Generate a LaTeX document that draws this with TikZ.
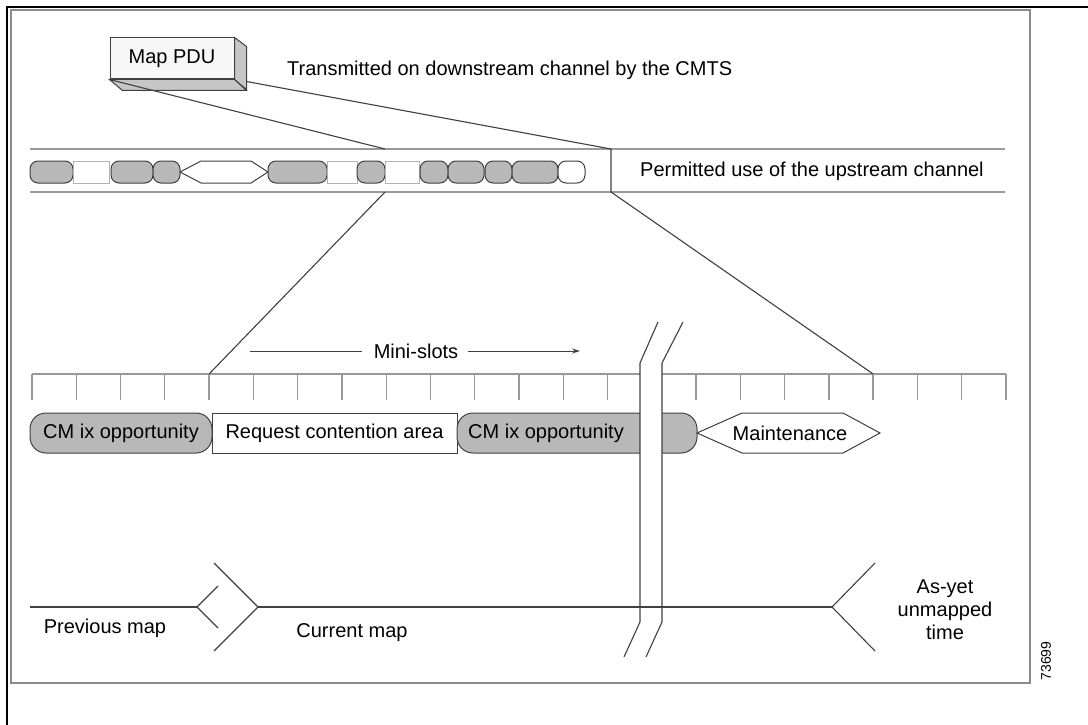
\documentclass[tikz,border=0pt]{standalone}
\usepackage{fontspec}
\setmainfont{Liberation Sans}
\usetikzlibrary{arrows.meta}
\definecolor{ln}{HTML}{404040}
\definecolor{cellgray}{HTML}{B8B8B8}
\definecolor{stripgray}{HTML}{9A9A9A}
\definecolor{framegray}{HTML}{8C8C8C}
\begin{document}
\begin{tikzpicture}[x=1pt,y=-1pt,
  lbl/.style={font=\fontsize{20}{23}\selectfont, text=black, inner sep=0pt},
  conn/.style={draw=ln, line width=1.1pt},
  tick/.style={draw=gray!80, line width=1.3pt},
  gcell/.style={draw=ln, fill=cellgray, line width=1pt, rounded corners=8pt, minimum height=22pt, inner sep=0pt},
  wcell/.style={draw=gray!60, fill=white, line width=1pt, minimum height=22pt, inner sep=0pt},
  wround/.style={draw=ln, fill=white, line width=1pt, rounded corners=8pt, minimum height=22pt, inner sep=0pt},
  bigg/.style={draw=ln, fill=cellgray, line width=1pt, rounded corners=16pt, minimum height=40pt, inner sep=0pt},
  bigw/.style={draw=ln, fill=white, line width=1pt, minimum height=40pt, inner sep=0pt},
  stripline/.style={draw=stripgray, line width=2pt}]
\useasboundingbox (0,0) rectangle (1088,725);
% frames
\draw[black, line width=2pt] (7,725) -- (7,7) -- (1088,7);
\draw[framegray, line width=2pt] (11,10) rectangle (1030,683);

% Map PDU box
\node[draw=ln, fill=gray!6, line width=1pt, minimum width=124, minimum height=41, lbl] (pdu) at (172,58.5) {Map PDU};
\draw[draw=ln, line width=1pt, fill=gray!45] (pdu.north east) -- ++(12,9) -- ++(0,43) -- (pdu.south east) -- cycle;
\draw[draw=ln, line width=1pt, fill=gray!45] (pdu.south west) -- (pdu.south east) -- ++(12,11) -- ++(-124,0) -- cycle;
\coordinate (pdubr) at ([shift={(12,2)}]pdu.south east);
\node[lbl, anchor=west] (tx) at (287,70) {Transmitted on downstream channel by the CMTS};

% upstream strip
\draw[stripline] (30,149) -- (1005,149);
\draw[stripline] (30,192) -- (1005,192);
\coordinate (wl) at (385,149);
\coordinate (wl2) at (385,192);
\coordinate (wt) at (611,149);
\coordinate (wb) at (611,192);
\node[gcell, minimum width=43] (s1) at (51.5,172) {};
\node[wcell, minimum width=36] (s2) at (91,172) {};
\node[gcell, minimum width=42] (s3) at (132,172) {};
\node[gcell, minimum width=27] (s4) at (166.5,172) {};
\draw[draw=ln, line width=1pt, fill=white] (180,172) -- (201,161) -- (251,161) -- (268,172) -- (251,183) -- (201,183) -- cycle;
\node[gcell, minimum width=59] (s6) at (297.5,172) {};
\node[wcell, minimum width=30] (s7) at (342,172) {};
\node[gcell, minimum width=28] (s8) at (371,172) {};
\node[wcell, minimum width=34] (s9) at (402,172) {};
\node[gcell, minimum width=28] (s10) at (434,172) {};
\node[gcell, minimum width=36] (s11) at (466,172) {};
\node[gcell, minimum width=27] (s12) at (498.5,172) {};
\node[gcell, minimum width=46] (s13) at (535,172) {};
\node[wround, minimum width=27] (s14) at (571.5,172) {};
\node[lbl, anchor=west] (perm) at (640,171) {Permitted use of the upstream channel};

% connectors from PDU
\draw[conn] (pdu.south west) -- (wl);
\draw[conn] (pdubr) -- (wt) -- (wb);

% ruler
\draw[tick] (32,374) -- (1006,374);
\foreach \k in {0,...,22} {
  \coordinate (t\k) at ({32+44.27*\k},374);
  \draw[tick] (t\k) -- ++(0,26);
}
\draw[conn] (wl2) -- (t4);
\draw[conn] (wb) -- (t19);

% mini-slots
\node[lbl] (ms) at (416,351) {Mini-slots};
\coordinate (msl) at (250,351);
\coordinate (msr) at (580,351);
\draw[conn, line width=0.9pt] (msl) -- ([xshift=-12pt]ms.west);
\draw[conn, line width=0.9pt, -{Stealth[length=8pt,width=5pt]}] ([xshift=10pt]ms.east) -- (msr);

% lower shapes
\node[bigg, minimum width=182] (cm1) at (121,433) {};
\node[lbl] (cm1t) at (121,433) {CM ix opportunity};
\node[bigw, minimum width=245] (req) at (334.5,433) {};
\node[lbl] (reqt) at (334.5,433) {Request contention area};
\node[bigg, minimum width=240] (cm2) at (577,433) {};
\node[lbl] (cm2t) at (546,433) {CM ix opportunity};
\draw[draw=ln, line width=1pt, fill=white] (697,433) -- (742,413) -- (843,413) -- (880,433) -- (843,453) -- (742,453) -- cycle;
\node[lbl] (mt) at (790,433) {Maintenance};

% break
\fill[white] (658,322) -- (640,363) -- (640,622) -- (624,657) -- (646,657) -- (662,622) -- (662,363) -- (683,322) -- cycle;
\draw[conn] (658,322) -- (640,363) -- (640,622) -- (624,657);
\draw[conn] (683,322) -- (662,363) -- (662,622) -- (646,657);

% timeline
\coordinate (tl0) at (30,607);
\coordinate (pv) at (197,607);
\coordinate (cv) at (258,607);
\coordinate (av) at (832,607);
\draw[conn] (tl0) -- (pv);
\draw[conn] (218,586) -- (pv) -- (218,628);
\draw[conn] (214,563) -- (cv) -- (214,651);
\draw[conn] (cv) -- (av);
\draw[conn] (875,563) -- (av) -- (875,651);
\node[lbl] (prev) at (105,628) {Previous map};
\node[lbl] (cur) at (352,633) {Current map};
\node[lbl, align=center] (ay) at (945,610) {As-yet\\unmapped\\time};
\node[inner sep=0pt, rotate=90, font=\fontsize{14}{16}\selectfont] (fig) at (1046,661) {73699};
\end{tikzpicture}
\end{document}
